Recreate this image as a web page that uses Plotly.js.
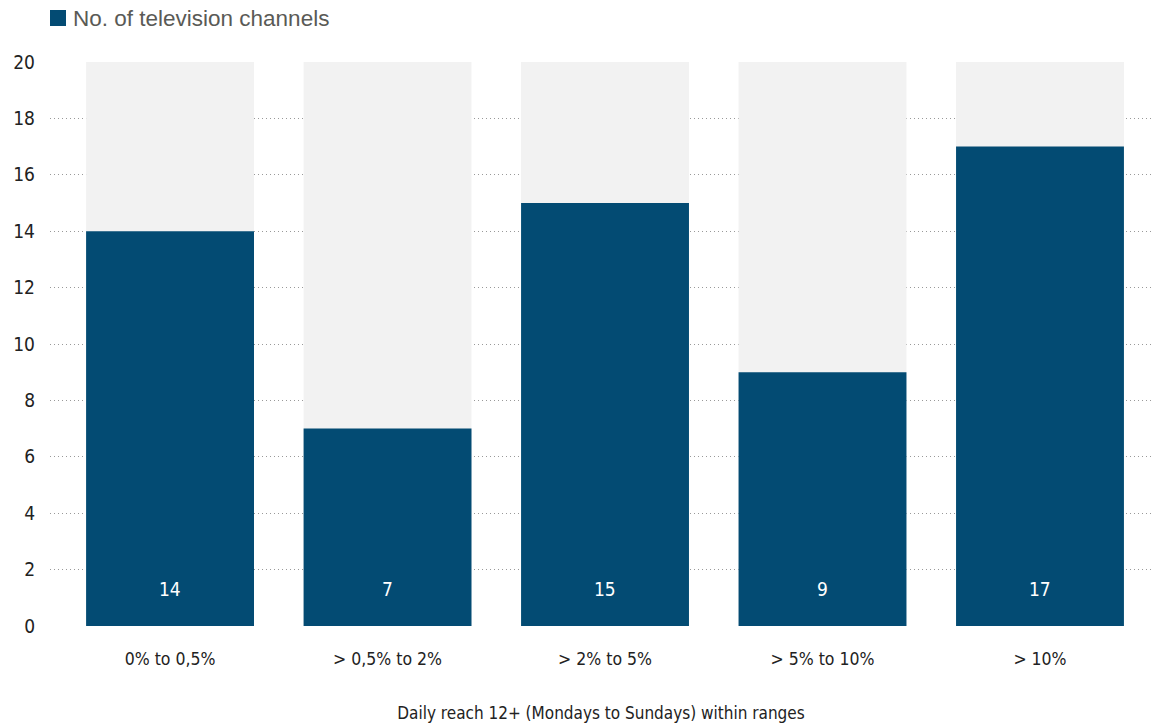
<!DOCTYPE html>
<html>
<head>
<meta charset="utf-8">
<script src="https://cdn.plot.ly/plotly-3.0.1.min.js"></script>
<style>html,body{margin:0;padding:0;background:#fff;}#chart{width:1152px;height:726px;}</style>
</head>
<body>
<div id="chart"></div>
<script>
const categories = ["0% to 0,5%", "> 0,5% to 2%", "> 2% to 5%", "> 5% to 10%", "> 10%"];
const channelCounts = [14, 7, 15, 9, 17];
const backgroundMax = [20, 20, 20, 20, 20];
const seriesName = "No. of television channels";
const xTitle = "Daily reach 12+ (Mondays to Sundays) within ranges";
const yTicks = [0, 2, 4, 6, 8, 10, 12, 14, 16, 18, 20];

const BLUE = "#034b73";
const FONT = "'DejaVu Sans Condensed', 'Liberation Sans Narrow', Roboto, sans-serif";

const traces = [
  {type: "bar", x: categories, y: backgroundMax, width: 0.772, marker: {color: "#f2f2f2"},
   hoverinfo: "skip", showlegend: false},
  {type: "bar", x: categories, y: channelCounts, width: 0.772, marker: {color: BLUE},
   name: seriesName, showlegend: false}
];

const annotations = categories.map((c, i) => ({
  x: c, y: 1.3, xref: "x", yref: "y", text: String(channelCounts[i]), showarrow: false,
  font: {family: FONT, size: 19, color: "#ffffff"}
}));
annotations.push({
  x: 0.019, y: 1.078, xref: "paper", yref: "paper", xanchor: "left", yanchor: "middle",
  text: seriesName, showarrow: false,
  font: {family: "'Liberation Sans', Arial, sans-serif", size: 22.5, color: "#5a5a56"}
});

const layout = {
  width: 1152, height: 726,
  margin: {l: 50, r: 0, t: 62, b: 100},
  paper_bgcolor: "#fff", plot_bgcolor: "#fff",
  barmode: "overlay",
  font: {family: FONT, color: "#222"},
  xaxis: {
    type: "category", range: [-0.552, 4.515], showgrid: false, zeroline: false, showline: false,
    ticks: "", tickfont: {family: FONT, size: 17.5, color: "#222"}, ticklabelstandoff: 20,
    title: {text: xTitle, font: {family: FONT, size: 17, color: "#222"}, standoff: 39},
    fixedrange: true
  },
  yaxis: {
    range: [0, 20], tickvals: yTicks, showgrid: true, gridcolor: "#999999", griddash: "1px,3px",
    gridwidth: 1, zeroline: false, showline: false, ticks: "",
    tickfont: {family: FONT, size: 19, color: "#222"}, ticklabelstandoff: 14,
    fixedrange: true
  },
  shapes: [{type: "rect", xref: "paper", yref: "paper",
            xsizemode: "pixel", ysizemode: "pixel", xanchor: 0, yanchor: 1,
            x0: 0, x1: 16, y0: 36, y1: 52, fillcolor: BLUE, line: {width: 0}}],
  annotations: annotations
};

Plotly.newPlot("chart", traces, layout, {displayModeBar: false, staticPlot: true});
</script>
</body>
</html>
